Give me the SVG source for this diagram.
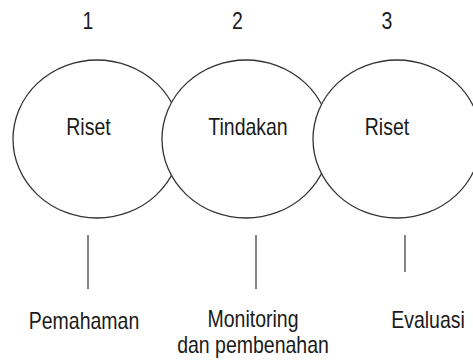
<svg xmlns="http://www.w3.org/2000/svg" width="473" height="360" viewBox="0 0 473 360">
  <style>
    .lbl { font-family: "Liberation Sans", Arial, sans-serif; font-size: 19.5px; fill: #1a1a1a; text-anchor: middle; }
    .ring { fill: #ffffff; stroke: #333333; stroke-width: 1.3; }
    .tick { stroke: #666666; stroke-width: 1.6; }
  </style>
  <rect width="473" height="360" fill="#ffffff"/>

  <!-- stage numbers -->
  <g id="numbers">
    <text class="lbl" transform="translate(88,29) scale(1,1.2)">1</text>
    <text class="lbl" transform="translate(237.5,29) scale(1,1.2)">2</text>
    <text class="lbl" transform="translate(387,29) scale(1,1.2)">3</text>
  </g>

  <!-- overlapping stages, drawn left to right so each covers the previous one -->
  <g id="node-riset-1">
    <ellipse class="ring" cx="97" cy="139" rx="84" ry="79"/>
    <text class="lbl" transform="translate(88.5,135) scale(1,1.2)">Riset</text>
  </g>
  <g id="node-tindakan">
    <ellipse class="ring" cx="246" cy="139" rx="84" ry="79"/>
    <text class="lbl" transform="translate(248,135) scale(1,1.2)">Tindakan</text>
  </g>
  <g id="node-riset-3">
    <ellipse class="ring" cx="397" cy="139" rx="84" ry="79"/>
    <text class="lbl" transform="translate(387,135) scale(1,1.2)">Riset</text>
  </g>

  <!-- connectors down to the outcomes -->
  <g id="connectors">
    <line class="tick" x1="88" y1="235" x2="88" y2="289"/>
    <line class="tick" x1="256" y1="235" x2="256" y2="289"/>
    <line class="tick" x1="405" y1="235" x2="405" y2="272"/>
  </g>

  <g id="outcome-pemahaman">
    <text class="lbl" transform="translate(84,329) scale(1,1.2)">Pemahaman</text>
  </g>
  <g id="outcome-monitoring">
    <text class="lbl" transform="translate(253,327) scale(1,1.2)">Monitoring</text>
    <text class="lbl" transform="translate(253,353) scale(1,1.2)">dan pembenahan</text>
  </g>
  <g id="outcome-evaluasi">
    <text class="lbl" transform="translate(428,328) scale(1,1.2)">Evaluasi</text>
  </g>
</svg>
